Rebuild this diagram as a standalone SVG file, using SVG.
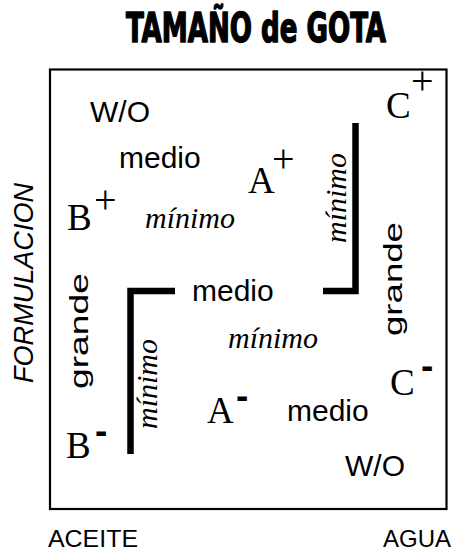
<svg xmlns="http://www.w3.org/2000/svg" width="457" height="551" viewBox="0 0 457 551">
<style>
.sans{font-family:"Liberation Sans",Arial,sans-serif;fill:#000}
.serif{font-family:"Liberation Serif","Times New Roman",serif;fill:#000}
.lbl{font-size:30px}
.min{font-size:30px;font-style:italic}
.big{font-size:37px}
.sup{font-size:40px}
.dash{font-family:"Liberation Sans",Arial,sans-serif;font-size:37px;font-weight:bold;fill:#000}
.bar{fill:none;stroke:#000;stroke-width:6.5;stroke-linejoin:miter;stroke-linecap:butt}
</style>
<rect width="457" height="551" fill="#fff"/>
<g id="title">
<text x="126" y="42" font-family="'DejaVu Sans Condensed','Liberation Sans Narrow',sans-serif" font-weight="bold" font-size="40" stroke="#000" stroke-width="1.4" stroke-linejoin="round" textLength="260" lengthAdjust="spacingAndGlyphs">TAMAÑO de GOTA</text>
</g>
<g id="frame">
<rect x="50" y="69.5" width="396.5" height="439.5" fill="none" stroke="#000" stroke-width="2.2"/>
</g>
<g id="connectors">
<path class="bar" d="M175 291 H130.5 V454"/>
<path class="bar" d="M355.5 123 V291 H323"/>
</g>
<g id="axis-y">
<text class="sans" font-size="27" font-style="italic" text-anchor="middle" transform="translate(33,283) rotate(-90)" textLength="200" lengthAdjust="spacingAndGlyphs">FORMULACION</text>
</g>
<g id="axis-x">
<text class="sans" x="48" y="547" font-size="24" textLength="90" lengthAdjust="spacingAndGlyphs">ACEITE</text>
<text class="sans" x="383" y="547" font-size="24">AGUA</text>
</g>
<g id="node-wo-top"><text class="sans lbl" x="90" y="122">W/O</text></g>
<g id="node-medio-top"><text class="sans lbl" x="119" y="168">medio</text></g>
<g id="node-A-plus"><text class="serif big" x="248" y="193">A</text><text class="serif sup" x="272" y="172">+</text></g>
<g id="node-B-plus"><text class="serif big" x="67" y="230">B</text><text class="serif sup" x="94" y="213">+</text></g>
<g id="node-C-plus"><text class="serif big" x="386" y="118">C</text><text class="serif sup" x="411" y="94">+</text></g>
<g id="node-minimo-top"><text class="serif min" x="145" y="228">mínimo</text></g>
<g id="node-minimo-right"><text class="serif min" text-anchor="middle" transform="translate(346,198) rotate(-90)">mínimo</text></g>
<g id="node-grande-left"><text class="sans" font-size="25" text-anchor="middle" transform="translate(88,331) rotate(-90)" textLength="116" lengthAdjust="spacingAndGlyphs">grande</text></g>
<g id="node-grande-right"><text class="sans" font-size="25" text-anchor="middle" transform="translate(402,279) rotate(-90)" textLength="114" lengthAdjust="spacingAndGlyphs">grande</text></g>
<g id="node-medio-mid"><text class="sans lbl" x="192" y="301">medio</text></g>
<g id="node-minimo-mid"><text class="serif min" x="228" y="348">mínimo</text></g>
<g id="node-minimo-left"><text class="serif min" text-anchor="middle" transform="translate(157,384) rotate(-90)">mínimo</text></g>
<g id="node-A-minus"><text class="serif big" x="207" y="423">A</text><text class="dash" x="236" y="408">-</text></g>
<g id="node-medio-low"><text class="sans lbl" x="287" y="421">medio</text></g>
<g id="node-C-minus"><text class="serif big" x="390" y="395">C</text><text class="dash" x="421" y="378">-</text></g>
<g id="node-B-minus"><text class="serif big" x="66" y="458">B</text><text class="dash" x="95" y="443">-</text></g>
<g id="node-wo-low"><text class="sans lbl" x="345" y="476">W/O</text></g>
</svg>
